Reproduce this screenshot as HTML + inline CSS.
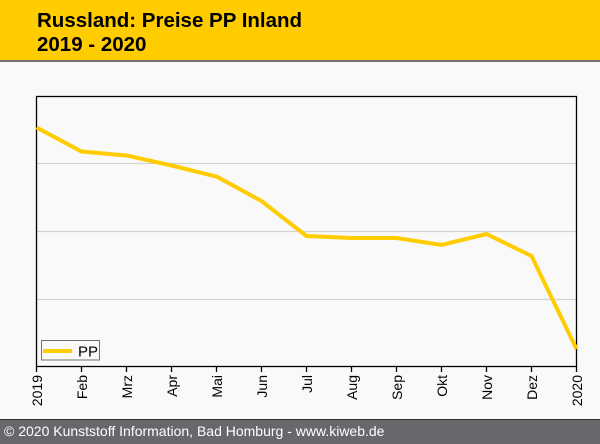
<!DOCTYPE html>
<html><head><meta charset="utf-8"><style>
html,body{margin:0;padding:0;background:#f9f9f9;}
body{width:600px;height:444px;overflow:hidden;position:relative;font-family:"Liberation Sans",Arial,sans-serif;}
</style></head><body>
<svg width="600" height="444" viewBox="0 0 600 444" xmlns="http://www.w3.org/2000/svg" style="position:absolute;left:0;top:0">
<rect x="0" y="0" width="600" height="444" fill="#f9f9f9"/>
<rect x="0" y="0" width="600" height="60" fill="#ffcc00"/>
<rect x="0" y="60" width="600" height="2" fill="#707070"/>
<text x="37" y="27" font-family="Liberation Sans, Arial, sans-serif" font-size="20.5" font-weight="bold" fill="#000">Russland: Preise PP Inland</text>
<text x="37" y="51" font-family="Liberation Sans, Arial, sans-serif" font-size="20.5" font-weight="bold" fill="#000">2019 - 2020</text>
<g stroke="#d3d3d3" stroke-width="1.3">
<line x1="37" y1="163.5" x2="576" y2="163.5"/>
<line x1="37" y1="231.5" x2="576" y2="231.5"/>
<line x1="37" y1="299.5" x2="576" y2="299.5"/>
</g>
<rect x="36.5" y="96.5" width="540" height="270" fill="none" stroke="#000" stroke-width="1.3"/>
<polyline fill="none" stroke="#ffcc00" stroke-width="4" stroke-linejoin="miter" points="36.5,127.5 81.5,151.5 126.5,155.5 171.5,165.5 216.5,176.5 261.5,201 306.5,236 351.5,238 396.5,238 441.5,245 486.5,234 531.5,256 576.5,349"/>
<g stroke="#000" stroke-width="1.3">
<line x1="36.5" y1="366" x2="36.5" y2="372"/>
<line x1="81.5" y1="366" x2="81.5" y2="372"/>
<line x1="126.5" y1="366" x2="126.5" y2="372"/>
<line x1="171.5" y1="366" x2="171.5" y2="372"/>
<line x1="216.5" y1="366" x2="216.5" y2="372"/>
<line x1="261.5" y1="366" x2="261.5" y2="372"/>
<line x1="306.5" y1="366" x2="306.5" y2="372"/>
<line x1="351.5" y1="366" x2="351.5" y2="372"/>
<line x1="396.5" y1="366" x2="396.5" y2="372"/>
<line x1="441.5" y1="366" x2="441.5" y2="372"/>
<line x1="486.5" y1="366" x2="486.5" y2="372"/>
<line x1="531.5" y1="366" x2="531.5" y2="372"/>
<line x1="576.5" y1="366" x2="576.5" y2="372"/>
</g>
<g font-family="Liberation Sans, Arial, sans-serif" font-size="14" fill="#000" text-anchor="end">
<text transform="translate(42,375) rotate(-90)">2019</text>
<text transform="translate(87,375) rotate(-90)">Feb</text>
<text transform="translate(132,375) rotate(-90)">Mrz</text>
<text transform="translate(177,375) rotate(-90)">Apr</text>
<text transform="translate(222,375) rotate(-90)">Mai</text>
<text transform="translate(267,375) rotate(-90)">Jun</text>
<text transform="translate(312,375) rotate(-90)">Jul</text>
<text transform="translate(357,375) rotate(-90)">Aug</text>
<text transform="translate(402,375) rotate(-90)">Sep</text>
<text transform="translate(447,375) rotate(-90)">Okt</text>
<text transform="translate(492,375) rotate(-90)">Nov</text>
<text transform="translate(537,375) rotate(-90)">Dez</text>
<text transform="translate(582,375) rotate(-90)">2020</text>
</g>
<rect x="41.5" y="340.5" width="58" height="19.5" fill="#f9f9f9" stroke="#707070" stroke-width="1"/>
<line x1="43" y1="351" x2="72" y2="351" stroke="#ffcc00" stroke-width="4"/>
<text x="78" y="356.5" font-family="Liberation Sans, Arial, sans-serif" font-size="15" fill="#000">PP</text>
<rect x="0" y="419" width="600" height="1" fill="#333"/>
<rect x="0" y="420" width="600" height="24" fill="#67686b"/>
<text x="4" y="436" font-family="Liberation Sans, Arial, sans-serif" font-size="14" fill="#fff">© 2020 Kunststoff Information, Bad Homburg - www.kiweb.de</text>
</svg>
</body></html>
